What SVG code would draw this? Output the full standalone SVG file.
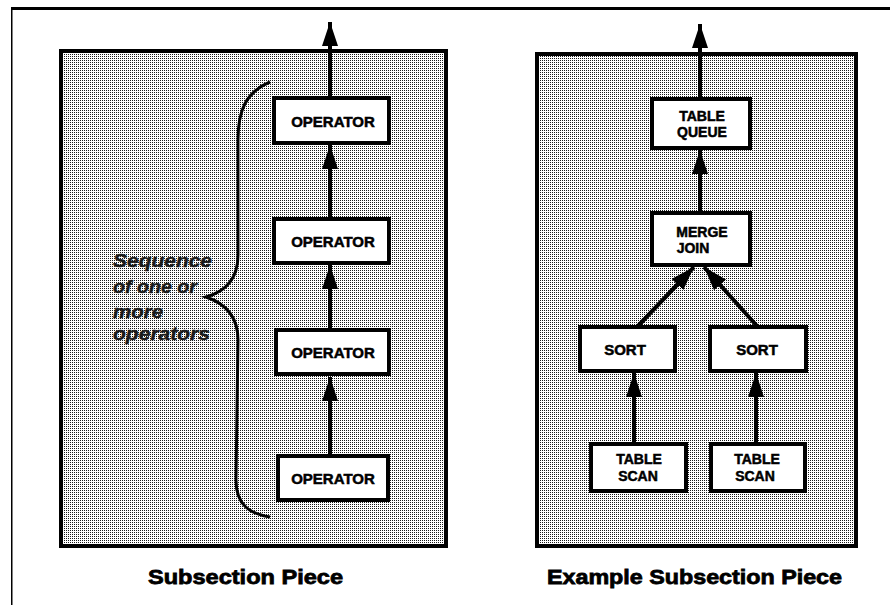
<svg xmlns="http://www.w3.org/2000/svg" width="890" height="605" viewBox="0 0 890 605">
<defs>
<pattern id="dots" patternUnits="userSpaceOnUse" width="2" height="2">
<rect width="2" height="2" fill="#ffffff"/>
<rect x="0" y="0" width="1" height="1" fill="#1a1a1a"/>
</pattern>
<marker id="ah" markerUnits="userSpaceOnUse" markerWidth="24" markerHeight="16" refX="24" refY="8" orient="auto" viewBox="0 0 24 16">
<path d="M0,0 L24,8 L0,16 z" fill="#000"/>
</marker>
<style>
.panel{fill:url(#dots);stroke:#000;stroke-width:4;shape-rendering:crispEdges}
.box{fill:#fff;stroke:#000;stroke-width:4}
.bt{font-family:"Liberation Sans",Arial,sans-serif;font-weight:bold;font-size:15px;fill:#000;stroke:#000;stroke-width:0.5;text-anchor:middle}
.bt2{font-family:"Liberation Sans",Arial,sans-serif;font-weight:bold;font-size:14px;fill:#000;stroke:#000;stroke-width:0.5;text-anchor:middle}
.cap{font-family:"Liberation Sans",Arial,sans-serif;font-weight:bold;font-size:21px;fill:#000;stroke:#000;stroke-width:0.8}
.note{font-family:"Liberation Sans",Arial,sans-serif;font-weight:bold;font-style:italic;font-size:18px;fill:#1a1a1a;stroke:#1a1a1a;stroke-width:0.4}
.conn{stroke:#000;stroke-width:4;fill:none;marker-end:url(#ah)}
</style>
</defs>
<rect width="890" height="605" fill="#fff"/>
<g id="frame">
<rect x="11" y="7" width="879" height="3" fill="#000"/>
<rect x="11" y="7" width="1.5" height="598" fill="#000"/>
</g>
<g id="panel-left"><rect class="panel" x="61" y="51" width="385" height="495"/></g>
<g id="panel-right"><rect class="panel" x="537" y="54" width="319" height="492"/></g>
<g id="connectors">
<line class="conn" x1="330" y1="98" x2="330" y2="22"/>
<line class="conn" x1="330" y1="218" x2="330" y2="145"/>
<line class="conn" x1="330" y1="330" x2="330" y2="265"/>
<line class="conn" x1="330" y1="456" x2="330" y2="377"/>
<line class="conn" x1="700" y1="98" x2="700" y2="24"/>
<line class="conn" x1="700" y1="212" x2="700" y2="150"/>
<line class="conn" x1="638" y1="326" x2="694" y2="267"/>
<line class="conn" x1="757" y1="326" x2="704" y2="267"/>
<line class="conn" x1="634" y1="443" x2="634" y2="373"/>
<line class="conn" x1="756" y1="443" x2="756" y2="373"/>
</g>
<g id="brace">
<path d="M270,82 C246,92 238,110 238,140 L238,255 C238,280 224,292 206,297 C224,303 238,315 238,340 L236,480 C236,505 250,514 270,517" fill="none" stroke="#000" stroke-width="3"/>
<text class="note" x="113" y="267" textLength="99" lengthAdjust="spacingAndGlyphs">Sequence</text>
<text class="note" x="113" y="293" textLength="84" lengthAdjust="spacingAndGlyphs">of one or</text>
<text class="note" x="113" y="318" textLength="50" lengthAdjust="spacingAndGlyphs">more</text>
<text class="note" x="113" y="340" textLength="97" lengthAdjust="spacingAndGlyphs">operators</text>
</g>
<g id="op1"><rect class="box" x="274" y="98" width="115" height="45"/><text class="bt" x="333" y="127">OPERATOR</text></g>
<g id="op2"><rect class="box" x="274" y="219" width="115" height="44"/><text class="bt" x="333" y="247">OPERATOR</text></g>
<g id="op3"><rect class="box" x="276" y="330" width="113" height="44"/><text class="bt" x="333" y="358">OPERATOR</text></g>
<g id="op4"><rect class="box" x="278" y="456" width="110" height="44"/><text class="bt" x="333" y="484">OPERATOR</text></g>
<g id="tq"><rect class="box" x="652" y="99" width="98" height="49"/><text class="bt2" x="702" y="121">TABLE</text><text class="bt2" x="702" y="137">QUEUE</text></g>
<g id="mj"><rect class="box" x="652" y="213" width="98" height="52"/><text class="bt2" x="702" y="237">MERGE</text><text class="bt2" x="693" y="253">JOIN</text></g>
<g id="sort1"><rect class="box" x="580" y="327" width="95" height="44"/><text class="bt" x="625" y="355">SORT</text></g>
<g id="sort2"><rect class="box" x="710" y="327" width="96" height="44"/><text class="bt" x="757" y="355">SORT</text></g>
<g id="ts1"><rect class="box" x="591" y="444" width="95" height="47"/><text class="bt2" x="639" y="464">TABLE</text><text class="bt2" x="638" y="481">SCAN</text></g>
<g id="ts2"><rect class="box" x="711" y="444" width="94" height="47"/><text class="bt2" x="757" y="464">TABLE</text><text class="bt2" x="755" y="481">SCAN</text></g>
<g id="captions">
<text class="cap" x="148" y="584" textLength="195" lengthAdjust="spacingAndGlyphs">Subsection Piece</text>
<text class="cap" x="547" y="584" textLength="295" lengthAdjust="spacingAndGlyphs">Example Subsection Piece</text>
</g>
</svg>
